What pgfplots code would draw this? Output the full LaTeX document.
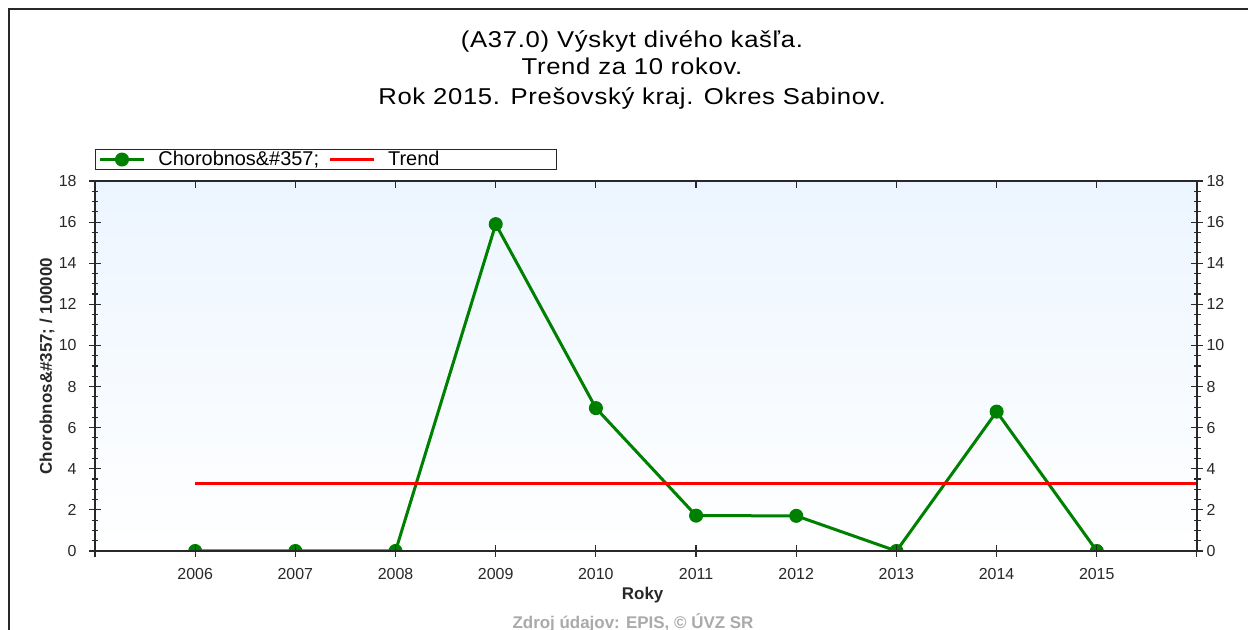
\documentclass[border=0pt]{standalone}
\usepackage{pgfplots}
\pgfplotsset{compat=1.18}
\usepackage{fontspec}
\setmainfont{Liberation Sans}
\newfontfamily\titlefont[FakeStretch=1.12,LetterSpace=3]{Liberation Sans}
\definecolor{lgreen}{RGB}{0,128,0}
\definecolor{bgblue}{RGB}{236,245,255}
\definecolor{srcgray}{RGB}{170,170,170}
\definecolor{axgray}{RGB}{40,40,40}
\pgfplotsset{
  common/.style={
    at={(95bp,79bp)}, anchor=south west, scale only axis,
    width=1102bp, height=370bp,
    xmin=2005, xmax=2016, ymin=0, ymax=18,
    axis line style={axgray, line width=1.2bp},
    every tick/.style={axgray, line width=1.1bp},
    tick label style={font=\fontsize{16}{19}\selectfont, text=axgray},
    /pgf/number format/assume math mode=true,
    xtick={2005,...,2016},
    ytick={0,2,...,18},
    minor y tick num=3,
  }
}
\begin{document}
\begin{tikzpicture}[x=1bp,y=1bp]
\useasboundingbox (0,0) rectangle (1248,630);
\fill[white] (0,0) rectangle (1248,630);
\draw[line width=2bp, axgray] (9,-5) -- (9,621) -- (1255,621);
\node[font=\titlefont\fontsize{23}{26}\selectfont, anchor=base, text=black] at (632,582) {(A37.0) Výskyt divého kašľa.};
\node[font=\titlefont\fontsize{23}{26}\selectfont, anchor=base, text=black] at (632,555) {Trend za 10 rokov.};
\node[font=\titlefont\fontsize{23}{26}\selectfont, anchor=base, text=black] at (632,525) {Rok 2015. Prešovský kraj. Okres Sabinov.};
\node[font=\bfseries\fontsize{17}{20}\selectfont, text=srcgray, anchor=base] at (633,1.5) {Zdroj údajov: EPIS, © ÚVZ SR};

\begin{axis}[common,
  axis background/.style={top color=bgblue, bottom color=white},
  xtick pos=left, ytick pos=left,
  tick align=center, major tick length=12bp, minor tick length=7bp,
  xticklabels={{},2006,2007,2008,2009,2010,2011,2012,2013,2014,2015,{}},
  xticklabel style={yshift=-8bp},
  yticklabel style={xshift=-9bp},
  xlabel={Roky}, ylabel={Chorobnos\&\#357; / 100000},
  label style={font=\bfseries\fontsize{17}{20}\selectfont, text=axgray},
  xlabel style={at={(axis description cs:0.497,-0.1324)}, anchor=base},
  ylabel style={at={(axis description cs:-0.0436,0.5)}, anchor=center},
  clip marker paths=true,
  axis on top,
  legend columns=2,
  legend cell align=left,
  legend style={at={(0,1)}, anchor=south west, yshift=11bp, draw=axgray, line width=1bp, fill=white,
    font=\fontsize{20}{22}\selectfont, inner xsep=3bp, inner ysep=0bp,
    /tikz/every odd column/.append style={column sep=11bp},
    /tikz/every even column/.append style={column sep=7bp}},
  legend image code/.code={\draw[mark repeat=2,mark phase=2,#1] plot coordinates {(0bp,0bp) (22bp,0bp) (44bp,0bp)};},
]
\addplot[lgreen, line width=3bp, mark=*, mark size=6.5bp, mark options={solid, fill=lgreen, draw=lgreen, line width=1bp}]
  coordinates {(2006,0) (2007,0) (2008,0) (2009,15.9) (2010,6.95) (2011,1.72) (2012,1.71) (2013,0) (2014,6.78) (2015,0)};
\addlegendentry{Chorobnos\&\#357;}
\addplot[red, line width=3bp] coordinates {(2006,3.306) (2016,3.306)};
\addlegendentry{\makebox[163bp][l]{Trend}}
\end{axis}

\begin{axis}[common, axis x line*=top, axis y line=none, tick align=inside,
  major tick length=7bp, xticklabels={}, ytick=\empty]
\end{axis}

\begin{axis}[common, axis y line*=right, axis x line=none, tick align=center,
  major tick length=12bp, minor tick length=7bp, xtick=\empty]
\end{axis}
\end{tikzpicture}
\end{document}
